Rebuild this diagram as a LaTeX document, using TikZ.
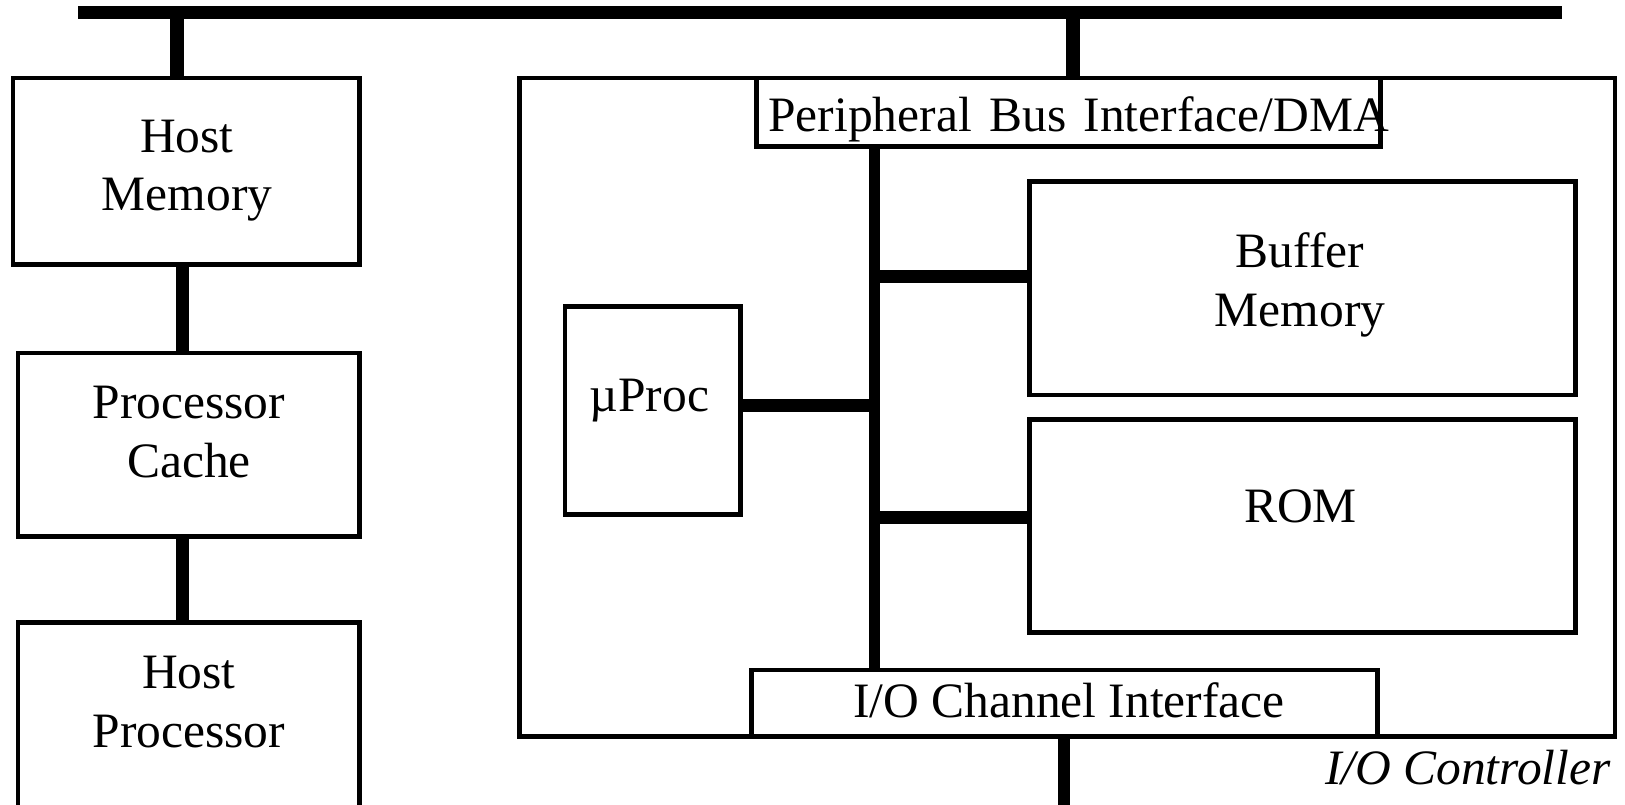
\documentclass[tikz,border=0pt]{standalone}
\usepackage{fontspec}
\setmainfont{Liberation Serif}
\begin{document}
\begin{tikzpicture}[x=0.5pt,y=-0.5pt,
  box/.style={draw, line width=2.3pt, fill=white, inner sep=0pt},
  lbl/.style={anchor=base, inner sep=0pt, font=\fontsize{24.75}{29}\selectfont},
  bus/.style={line width=6.5pt, line cap=butt},
  stub/.style={line width=7pt, line cap=butt},
  ibus/.style={line width=5.5pt, line cap=butt}]

% page frame
\fill[white] (0,0) rectangle (1625,804);
\clip (0,0) rectangle (1625,804);

% host side
\node[box, minimum width=173.35pt, minimum height=93.2pt]  (hm) at (186.2,171) {};
\node[box, minimum width=170.85pt, minimum height=91.7pt]  (pc) at (188.65,444.5) {};
\node[box, minimum width=170.85pt, minimum height=108.75pt] (hp) at (188.65,731.25) {};

% I/O controller and its parts
\node[box, minimum width=547.75pt, minimum height=329.25pt] (ioctl) at (1067.25,407.25) {};
\node[box, minimum width=312pt, minimum height=34.25pt]    (pbi) at (1068.5,112.25) {};
\node[box, minimum width=273pt, minimum height=106.75pt]   (buf) at (1302.5,288.25) {};
\node[box, minimum width=273pt, minimum height=106.5pt]    (rom) at (1302.5,526) {};
\node[box, minimum width=87.75pt, minimum height=104pt]    (up)  at (652.75,410.5) {};
\node[box, minimum width=313pt, minimum height=33.25pt]    (ioc) at (1064.5,703.25) {};

% labels
\node[lbl] (hm1) at (187,152) {Host};
\node[lbl] (hm2) at (187,210) {Memory};
\node[lbl] (pc1) at (189,418) {Processor};
\node[lbl] (pc2) at (189,477) {Cache};
\node[lbl] (hp1) at (189,688) {Host};
\node[lbl] (hp2) at (189,747) {Processor};
\node[lbl, anchor=base west] (pbit) at (768,131)
  {Peripheral\hspace{2.5pt} Bus\hspace{2.5pt} Interface/DMA};
\node[lbl] (buf1) at (1300,267) {Buffer};
\node[lbl] (buf2) at (1300,326) {Memory};
\node[lbl] (romt) at (1300.5,522) {ROM};
\node[lbl] (upt)  at (649.5,411) {µProc};
\node[lbl] (ioct) at (1069,717) {I/O Channel Interface};
\node[lbl, anchor=base east, font=\fontsize{24.75}{29}\selectfont\itshape]
  (ioctlt) at (1611,784) {I/O Controller};

% system bus and its taps
\coordinate (busL) at (78,12.5);
\coordinate (busR) at (1562,12.5);
\draw[bus] (busL) -- (busR);
\coordinate (tap1) at (177,12.5);
\draw[stub] (tap1) -- (tap1 |- hm.north);
\coordinate (tap2) at (1073,12.5);
\draw[stub, shorten >=-2pt] (tap2) -- (tap2 |- pbi.north);

% host chain
\coordinate (lx) at (182.5,0);
\draw[bus] (hm.south -| lx) -- (pc.north -| lx);
\draw[bus] (pc.south -| lx) -- (hp.north -| lx);

% controller internal bus
\coordinate (vx) at (874.5,0);
\draw[ibus] (pbi.south -| vx) -- (ioc.north -| vx);
\coordinate (jb) at (874.5,276.5);
\draw[bus] (jb) -- (jb -| buf.west);
\coordinate (ju) at (874.5,405);
\draw[bus] (up.east |- ju) -- (ju);
\coordinate (jr) at (874.5,517);
\draw[bus, shorten >=-2.5pt] (jr) -- (jr -| rom.west);

% I/O channel
\coordinate (bot) at (1064,806);
\draw[line width=6.25pt, line cap=butt] (ioc.south -| bot) -- (bot);
\end{tikzpicture}
\end{document}
